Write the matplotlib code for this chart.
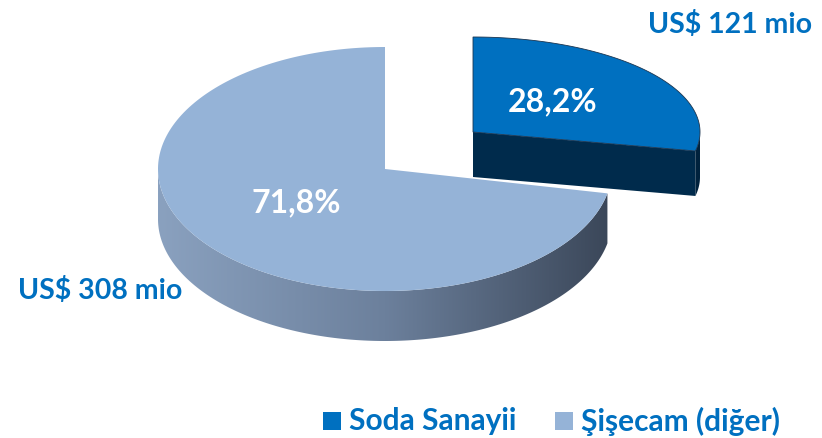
import matplotlib
matplotlib.use('Agg')
import matplotlib.pyplot as plt
from matplotlib.patches import Polygon, Rectangle
import numpy as np

# Data
labels = ['Soda Sanayii', 'Şişecam (diğer)']
values_mio = [121, 308]
shares = [28.2, 71.8]
top_colors = ['#0070c0', '#95b3d7']
side_colors = ['#002b4c', None]   # gray side gets a gradient

# Layout (pixel coordinates)
W, H = 822, 439
cx, cy, rx, ry, depth = 385, 170, 227, 122, 50        # main pie
ex_dx, ex_dy, ry_ex, depth_ex = 88, -37, 95, 45        # exploded slice
start = 90.0


def rim(x0, y0, a, b, t0, t1, n=200):
    t = np.radians(np.linspace(t0, t1, n))
    return np.column_stack([x0 + a*np.cos(t), y0 - b*np.sin(t)])


fig = plt.figure(figsize=(W/100, H/100), dpi=100)
ax = fig.add_axes([0, 0, 1, 1])
ax.axis('off')

# angles of each slice (first slice goes clockwise from the top)
sweep0 = shares[0]/100*360
a0_end = start - sweep0            # end of Soda slice

# --- exploded slice (Soda Sanayii), drawn first: it is behind
bx, by = cx + ex_dx, cy + ex_dy
p_end = rim(bx, by, rx, ry_ex, a0_end, a0_end, 1)[0]
cut = np.array([[bx, by], p_end, p_end + [0, depth_ex], [bx, by + depth_ex]])
ax.add_patch(Polygon(cut, closed=True, fc=side_colors[0], ec='none', zorder=1))
side_top = rim(bx, by, rx, ry_ex, a0_end, 0, 30)
side_b = np.column_stack([side_top[:, 0], side_top[:, 1] + depth_ex])[::-1]
ax.add_patch(Polygon(np.vstack([side_top, side_b]), closed=True,
                     fc='#00223d', ec='none', zorder=1))
top_b = np.vstack([[bx, by], rim(bx, by, rx, ry_ex, start, a0_end)])
ax.add_patch(Polygon(top_b, closed=True, fc=top_colors[0],
                     ec='#1b3550', lw=0.6, zorder=2))

# --- main slice (Şişecam diğer)
g_end = a0_end + 360
front = rim(cx, cy, rx, ry, 180, g_end)
front_b = np.column_stack([front[:, 0], front[:, 1] + depth])[::-1]
side_poly = Polygon(np.vstack([front, front_b]), closed=True,
                    fc='none', ec='none', zorder=3)
ax.add_patch(side_poly)
grad = np.linspace(0, 1, 256).reshape(1, -1)
cmap = matplotlib.colors.LinearSegmentedColormap.from_list(
    'side', ['#8aa1bf', '#6c809c', '#3a4658'])
im = ax.imshow(grad, cmap=cmap, aspect='auto', zorder=3,
               extent=[cx - rx, cx + rx, cy + ry + depth + 5, cy - 10])
im.set_clip_path(side_poly)
top_g = np.vstack([[cx, cy], rim(cx, cy, rx, ry, start, g_end)])
ax.add_patch(Polygon(top_g, closed=True, fc=top_colors[1], ec='none', zorder=4))

ax.set_xlim(0, W)
ax.set_ylim(H, 0)

# Labels
fam = ['Lato', 'DejaVu Sans']
ax.text(553, 102, f'{shares[0]:.1f}%'.replace('.', ','), color='white',
        fontsize=23, fontweight='bold', family=fam, ha='center', va='center', zorder=5)
ax.text(296, 203, f'{shares[1]:.1f}%'.replace('.', ','), color='white',
        fontsize=23, fontweight='bold', family=fam, ha='center', va='center', zorder=5)
ax.text(812, 24, f'US$ {values_mio[0]} mio', color='#0070c0',
        fontsize=20.5, fontweight='bold', family=fam, ha='right', va='center')
ax.text(18, 291, f'US$ {values_mio[1]} mio', color='#0070c0',
        fontsize=20.5, fontweight='bold', family=fam, ha='left', va='center')

# Legend
for sx, tx, lab, col in [(323, 349, labels[0], top_colors[0]),
                         (555, 581, labels[1], top_colors[1])]:
    ax.add_patch(Rectangle((sx, 413), 18, 18, fc=col, ec='none'))
    ax.text(tx, 421, lab, color='#0070c0', fontsize=21.5, fontweight='bold',
            family=fam, ha='left', va='center')

fig.savefig('out.png', dpi=100)
